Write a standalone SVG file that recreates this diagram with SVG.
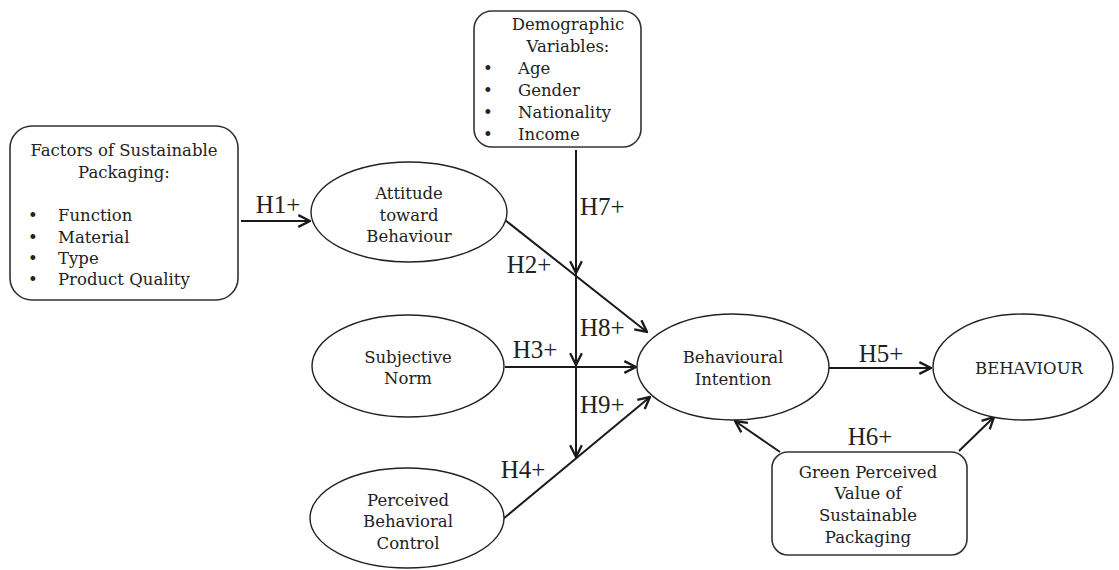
<svg xmlns="http://www.w3.org/2000/svg" width="1119" height="570" viewBox="0 0 1119 570">
  <style>
    .box { fill: #fff; stroke: #333; stroke-width: 1.6; }
    .ell { fill: #fff; stroke: #222; stroke-width: 1.4; }
    .t { font-family: "DejaVu Serif", "Liberation Serif", serif; font-size: 16.5px; fill: #222; }
    .c { text-anchor: middle; }
    .h { font-family: "Liberation Serif", "Times New Roman", serif; font-size: 25px; fill: #222; }
    .arr { stroke: #1a1a1a; stroke-width: 2; fill: none; marker-end: url(#ah); }
  </style>
  <defs>
    <marker id="ah" markerUnits="userSpaceOnUse" markerWidth="14" markerHeight="14" viewBox="0 0 12 12" refX="11" refY="6" orient="auto">
      <path d="M1,1 L11,6 L1,11" fill="none" stroke="#1a1a1a" stroke-width="2"/>
    </marker>
  </defs>
  <rect width="1119" height="570" fill="#fff"/>

  <!-- connectors -->
  <g id="connectors">
    <line class="arr" x1="241" y1="221" x2="310" y2="221"/>
    <line class="arr" x1="505" y1="220" x2="647" y2="332"/>
    <line class="arr" x1="505" y1="367" x2="636" y2="367"/>
    <line class="arr" x1="503" y1="519" x2="650" y2="397"/>
    <line class="arr" x1="576" y1="150" x2="576" y2="273"/>
    <line class="arr" x1="576" y1="273" x2="576" y2="365"/>
    <line class="arr" x1="576" y1="365" x2="576" y2="457"/>
    <line class="arr" x1="829" y1="368" x2="931" y2="368"/>
    <line class="arr" x1="780" y1="452" x2="735" y2="421"/>
    <line class="arr" x1="959" y1="451" x2="994" y2="417"/>
    <text class="h" x="278" y="213" text-anchor="middle">H1+</text>
    <text class="h" x="529" y="273" text-anchor="middle">H2+</text>
    <text class="h" x="535" y="358" text-anchor="middle">H3+</text>
    <text class="h" x="523" y="478" text-anchor="middle">H4+</text>
    <text class="h" x="881" y="362" text-anchor="middle">H5+</text>
    <text class="h" x="870" y="445" text-anchor="middle">H6+</text>
    <text class="h" x="580" y="215">H7+</text>
    <text class="h" x="580" y="336">H8+</text>
    <text class="h" x="580" y="413">H9+</text>
  </g>

  <g id="factors">
    <rect class="box" x="10" y="126" width="228" height="174" rx="22"/>
    <text class="t c" x="124" y="156">Factors of Sustainable</text>
    <text class="t c" x="124" y="178">Packaging:</text>
    <text class="t" x="28" y="221">•</text><text class="t" x="58" y="221">Function</text>
    <text class="t" x="28" y="243">•</text><text class="t" x="58" y="243">Material</text>
    <text class="t" x="28" y="264">•</text><text class="t" x="58" y="264">Type</text>
    <text class="t" x="28" y="285">•</text><text class="t" x="58" y="285">Product Quality</text>
  </g>

  <g id="demographics">
    <rect class="box" x="474" y="11" width="167" height="136" rx="18"/>
    <text class="t c" x="568" y="30">Demographic</text>
    <text class="t c" x="568" y="52">Variables:</text>
    <text class="t" x="483" y="74">•</text><text class="t" x="518" y="74">Age</text>
    <text class="t" x="483" y="96">•</text><text class="t" x="518" y="96">Gender</text>
    <text class="t" x="483" y="118">•</text><text class="t" x="518" y="118">Nationality</text>
    <text class="t" x="483" y="140">•</text><text class="t" x="518" y="140">Income</text>
  </g>

  <g id="attitude">
    <ellipse class="ell" cx="409" cy="212" rx="98" ry="50"/>
    <text class="t c" x="409" y="199">Attitude</text>
    <text class="t c" x="409" y="221">toward</text>
    <text class="t c" x="409" y="242">Behaviour</text>
  </g>

  <g id="subjective-norm">
    <ellipse class="ell" cx="408" cy="366" rx="96" ry="51"/>
    <text class="t c" x="408" y="363">Subjective</text>
    <text class="t c" x="408" y="384">Norm</text>
  </g>

  <g id="perceived-control">
    <ellipse class="ell" cx="407" cy="518" rx="97" ry="50"/>
    <text class="t c" x="408" y="506">Perceived</text>
    <text class="t c" x="408" y="527">Behavioral</text>
    <text class="t c" x="408" y="549">Control</text>
  </g>

  <g id="intention">
    <ellipse class="ell" cx="733" cy="367" rx="96" ry="53"/>
    <text class="t c" x="733" y="363">Behavioural</text>
    <text class="t c" x="733" y="385">Intention</text>
  </g>

  <g id="behaviour">
    <ellipse class="ell" cx="1023" cy="367" rx="90" ry="53"/>
    <text class="t c" x="1029" y="374">BEHAVIOUR</text>
  </g>

  <g id="green-value">
    <rect class="box" x="772" y="452" width="195" height="103" rx="16"/>
    <text class="t c" x="868" y="478">Green Perceived</text>
    <text class="t c" x="868" y="499">Value of</text>
    <text class="t c" x="868" y="521">Sustainable</text>
    <text class="t c" x="868" y="543">Packaging</text>
  </g>
</svg>
